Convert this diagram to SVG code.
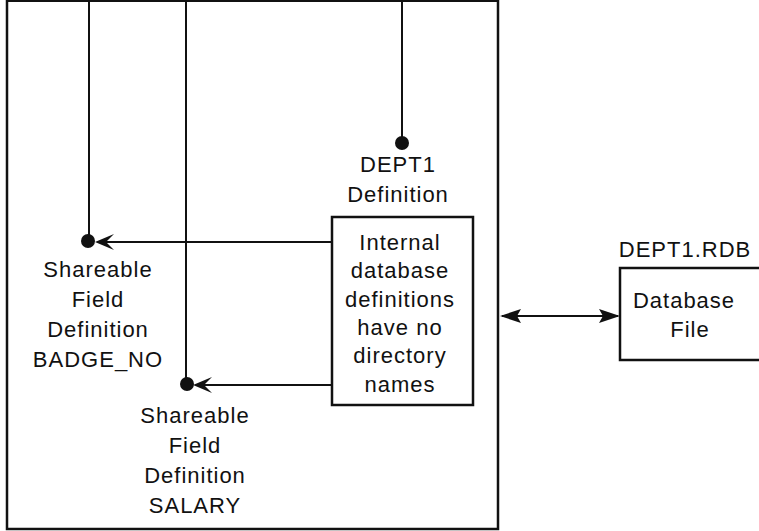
<svg xmlns="http://www.w3.org/2000/svg" width="759" height="531" viewBox="0 0 759 531">
<style>
  .ln { stroke: #111; stroke-width: 2; fill: none; }
  .bx { stroke: #111; stroke-width: 2.5; fill: #fff; }
  .dot { fill: #111; }
  .ah { fill: #111; stroke: none; }
  text { font-family: "Liberation Sans", Arial, sans-serif; font-size: 22px; fill: #111; text-anchor: middle; letter-spacing: 1px; }
</style>
<rect width="759" height="531" fill="#fff"/>
<g id="frame">
  <path class="bx" d="M7,0 V529 H498 V0" fill="none"/>
  <line class="ln" x1="7" y1="1" x2="498" y2="1"/>
</g>
<g id="connectors">
  <line class="ln" x1="89" y1="0" x2="89" y2="240"/>
  <line class="ln" x1="186" y1="0" x2="186" y2="384"/>
  <line class="ln" x1="402" y1="0" x2="402" y2="143"/>
  <line class="ln" x1="332" y1="242" x2="100" y2="242"/>
  <path class="ah" d="M95,242 L114,234 L106,242 L114,250 Z"/>
  <line class="ln" x1="332" y1="385" x2="198" y2="385"/>
  <path class="ah" d="M193,385 L212,377 L204,385 L212,393 Z"/>
  <line class="ln" x1="502" y1="316" x2="618" y2="316"/>
  <path class="ah" d="M500,316 L521,309 L517,316 L521,323 Z"/>
  <path class="ah" d="M620,316 L599,309 L603,316 L599,323 Z"/>
</g>
<g id="dept1-def">
  <circle class="dot" cx="402" cy="143" r="7"/>
  <text x="398" y="172">DEPT1</text>
  <text x="398" y="202">Definition</text>
</g>
<g id="badge-no">
  <circle class="dot" cx="88" cy="241" r="7"/>
  <text x="98" y="277">Shareable</text>
  <text x="98" y="307">Field</text>
  <text x="98" y="337">Definition</text>
  <text x="98" y="367">BADGE_NO</text>
</g>
<g id="salary">
  <circle class="dot" cx="187" cy="384" r="7"/>
  <text x="195" y="423">Shareable</text>
  <text x="195" y="453">Field</text>
  <text x="195" y="483">Definition</text>
  <text x="195" y="513">SALARY</text>
</g>
<g id="internal">
  <rect class="bx" x="332" y="217" width="141" height="188"/>
  <text x="400" y="250">Internal</text>
  <text x="400" y="278">database</text>
  <text x="400" y="307">definitions</text>
  <text x="400" y="335">have no</text>
  <text x="400" y="363">directory</text>
  <text x="400" y="392">names</text>
</g>
<g id="dbfile">
  <path class="bx" d="M765,268 H620 V360 H765"/>
  <text x="685" y="257">DEPT1.RDB</text>
  <text x="684" y="308">Database</text>
  <text x="690" y="337">File</text>
</g>
</svg>
